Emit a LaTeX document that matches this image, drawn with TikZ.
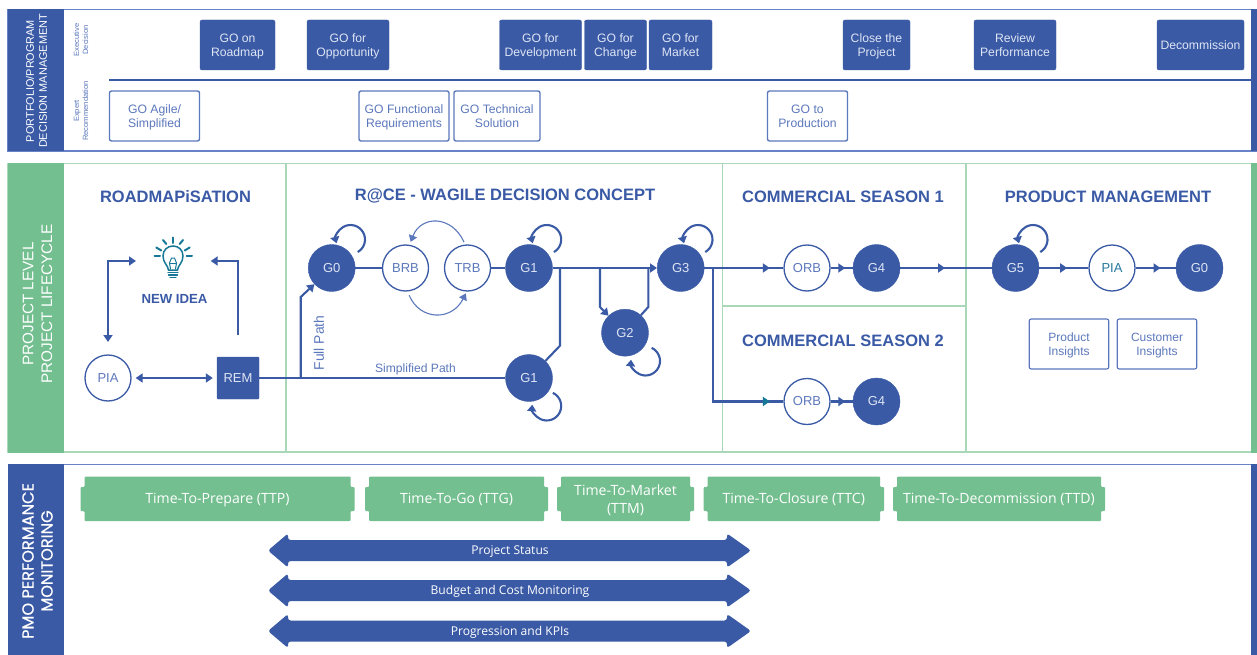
\documentclass[tikz,border=0pt]{standalone}
\usepackage{fontspec}
\setmainfont{Liberation Sans}
\newfontfamily\opensansf{Open Sans}
\newfontfamily\popf[FakeBold=0.5]{Poppins}
\usetikzlibrary{arrows.meta,decorations.markings,calc}
\definecolor{bluec}{RGB}{58,90,166}
\definecolor{framec}{RGB}{104,130,200}
\definecolor{lightt}{RGB}{92,120,188}
\definecolor{whitet}{RGB}{222,229,244}
\definecolor{greenc}{RGB}{115,191,144}
\definecolor{paleg}{RGB}{168,216,184}
\definecolor{tealc}{RGB}{22,120,150}
\newcommand{\fs}[2]{\fontsize{#1}{#2}\selectfont}
\newcommand{\twoline}[2]{\smash{#1}\rule{0pt}{.72em}\\\smash{#2}}
\newcommand{\oneline}[1]{\smash{#1}\rule{0pt}{.72em}}
\newcommand{\selfloop}[5]{% node, centre dx, dy, start, end
  \draw[loopline] (#1) ++({#2+14.5*cos(#4)},{#3-14.5*sin(#4)}) arc[start angle=#4,end angle=#5,radius=14.5pt];}
\newcommand{\greenbar}[5]{% name, x1, x2, y-centre, text
  \fill[greenc,rounded corners=1pt] (#2,487)--(#2+4,487)--(#2+4,476.5)--(#3-4,476.5)--(#3-4,487)--(#3,487)--(#3,511)--(#3-4,511)--(#3-4,521)--(#2+4,521)--(#2+4,511)--(#2,511)--cycle;
  \node[bartext] (#1) at ({(#2+#3)/2},#4) {#5};}
\newcommand{\dblarrow}[3]{% name, y, text
  \fill[bluec,rounded corners=2.6pt] (268,#2)--(288,#2-17)--(288,#2-10.5)--(727,#2-10.5)--(727,#2-17)--(751,#2)--(727,#2+17)--(727,#2+10.5)--(288,#2+10.5)--(288,#2+17)--cycle;
  \node[arrtext] (#1) at (510,#2) {\oneline{#3}};}
\tikzset{
  gosolid/.style={draw=bluec,fill=bluec,rounded corners=2pt,minimum height=50pt,inner sep=0pt,align=center,text=whitet,font=\fs{12.2}{14}},
  goopen/.style={draw=lightt,line width=1.4pt,fill=white,rounded corners=2pt,minimum height=50pt,inner sep=0pt,align=center,text=lightt,font=\fs{12.2}{14}},
  gate/.style={circle,fill=bluec,draw=bluec,minimum size=47pt,inner sep=0pt,text=whitet,font=\fs{13}{15}},
  board/.style={circle,fill=white,draw=bluec,line width=1.3pt,minimum size=46pt,inner sep=0pt,text=lightt,font=\fs{13}{15}},
  conn/.style={draw=bluec,line width=2.1pt},
  thinconn/.style={draw=lightt,line width=1.1pt},
  arr/.style={conn,-{Triangle[length=7pt,width=9pt]}},
  dblarr/.style={conn,{Triangle[length=7pt,width=9pt]}-{Triangle[length=7pt,width=9pt]}},
  loopline/.style={draw=bluec,line width=2.1pt,-{Triangle[length=6.5pt,width=9pt]}},
  midarr/.style={postaction={decorate,decoration={markings,mark=at position #1 with {\arrow{Triangle[length=7pt,width=9pt]}}}}},
  midarrteal/.style={postaction={decorate,decoration={markings,mark=at position #1 with {\arrow[color=tealc]{Triangle[length=7pt,width=9pt]}}}}},
  title/.style={text=bluec,font=\bfseries\fs{16.5}{18},inner sep=0pt},
  sidelabel/.style={rotate=90,text=white,align=center,inner sep=0pt},
  tinylabel/.style={rotate=90,text=lightt,align=center,inner sep=0pt,font=\fs{7.6}{9}},
  bartext/.style={text=white,align=center,inner sep=0pt,font=\opensansf\fs{14.1}{18}},
  arrtext/.style={text=white,align=center,inner sep=0pt,font=\opensansf\fs{12.1}{14}},
  pathlabel/.style={text=lightt,inner sep=0pt},
}
\begin{document}
\begin{tikzpicture}[x=1pt,y=-1pt]
\useasboundingbox (0,0) rectangle (1257,655);
\fill[white] (0,0) rectangle (1257,655);

% ---------- top panel
\draw[framec,line width=1.3pt] (8,9.5) rectangle (1257,151);
\fill[bluec] (8,9) rectangle (64,151.5);
\fill[bluec] (1251,9) rectangle (1257,151.5);
\node[sidelabel,font=\fs{10.9}{13}] (sidetop) at (36.5,81) {PORTFOLIO/PROGRAM\\DECISION MANAGEMENT};
\node[tinylabel] (execlab) at (81,40) {Executive\\Decision};
\node[tinylabel] (explab) at (81,111) {Expert\\Recommendation};
\coordinate (sepl) at (109,80);
\coordinate (sepr) at (1251,80);
\draw[conn] (sepl) -- (sepr);

\node[gosolid,minimum width=75pt] (goroad) at (237.5,45) {\twoline{GO on}{Roadmap}};
\node[gosolid,minimum width=82pt] (goopp) at (348,45) {\twoline{GO for}{Opportunity}};
\node[gosolid,minimum width=82pt] (godev) at (540.5,45) {\twoline{GO for}{Development}};
\node[gosolid,minimum width=62pt] (gochg) at (615.5,45) {\twoline{GO for}{Change}};
\node[gosolid,minimum width=63pt] (gomkt) at (680.5,45) {\twoline{GO for}{Market}};
\node[gosolid,minimum width=67pt] (goclose) at (876.5,45) {\twoline{Close the}{Project}};
\node[gosolid,minimum width=82pt] (gorev) at (1015,45) {\twoline{Review}{Performance}};
\node[gosolid,minimum width=87pt] (godec) at (1200.5,45) {\oneline{Decommission}};

\node[goopen,minimum width=90pt] (goagile) at (154.5,116) {\twoline{GO Agile/}{Simplified}};
\node[goopen,minimum width=90pt] (gofunc) at (404,116) {\twoline{GO Functional}{Requirements}};
\node[goopen,minimum width=86pt] (gotech) at (497,116) {\twoline{GO Technical}{Solution}};
\node[goopen,minimum width=80pt] (goprod) at (807.5,116) {\twoline{GO to}{Production}};

% ---------- middle panel
\draw[paleg,line width=1.5pt] (8,163.7) rectangle (1257,452);
\fill[greenc] (8,163) rectangle (64,452.5);
\fill[greenc] (1251,163) rectangle (1257,452.5);
\draw[paleg,line width=1.5pt] (286,163.7) -- (286,452);
\draw[paleg,line width=1.5pt] (722.7,163.7) -- (722.7,452);
\draw[paleg,line width=1.5pt] (966,163.7) -- (966,452);
\draw[paleg,line width=1.5pt] (722.7,306) -- (966,306);
\node[sidelabel,font=\fs{15.3}{18.6}] (sidemid) at (37.5,304) {PROJECT LEVEL\\PROJECT LIFECYCLE};

\node[title] (troad) at (175.5,197) {ROADMAPiSATION};
\node[title] (trace) at (505,196) {R@CE - WAGILE DECISION CONCEPT};
\node[title] (tcs1) at (843,197) {COMMERCIAL SEASON 1};
\node[title] (tcs2) at (843,341) {COMMERCIAL SEASON 2};
\node[title] (tpm) at (1108,197) {PRODUCT MANAGEMENT};

% light bulb
\begin{scope}[tealc,line width=1.5pt,line cap=round]
  \draw (168.5,270) .. controls (168,265) and (163,263) .. (163,256)
        .. controls (163,250) and (167.5,246) .. (173,246)
        .. controls (178.5,246) and (183,250) .. (183,256)
        .. controls (183,263) and (178,265) .. (177.5,270) -- cycle;
  \draw[line width=1pt] (170.5,269) -- (169.5,263) -- (171.5,258) -- (174.5,258) -- (176.5,263) -- (175.5,269);
  \draw[line width=1pt] (169.5,263) -- (176.5,263);
  \draw[line width=1.1pt] (168,272.5) -- (178,272.5);
  \draw[line width=1.1pt] (168.5,275) -- (177.5,275);
  \draw[line width=1.1pt] (170,277.5) -- (176,277.5);
  \draw[line width=2pt] (154.5,256) -- (160,256);
  \draw[line width=2pt] (186.5,256) -- (192,256);
  \draw[line width=2pt] (156.3,247.5) -- (161.3,250.5);
  \draw[line width=2pt] (189.7,247.5) -- (184.7,250.5);
  \draw[line width=2pt] (163,240) -- (166.3,244);
  \draw[line width=2pt] (183,240) -- (179.7,244);
  \draw[line width=2pt] (173,237.5) -- (173,243);
\end{scope}
\node[text=bluec,inner sep=0pt,font=\bfseries\fs{13.2}{15}] (newidea) at (174.5,299) {NEW IDEA};

% nodes of the lifecycle
\node[board] (piaL) at (108,378) {PIA};
\node[draw=bluec,fill=bluec,rounded corners=1pt,minimum size=42pt,inner sep=0pt,text=whitet,font=\fs{13}{15}] (rem) at (238,378) {REM};
\node[gate] (g0) at (331.7,268) {G0};
\node[board] (brb) at (405.5,268) {BRB};
\node[board] (trb) at (467.5,268) {TRB};
\node[gate] (g1) at (529,268) {G1};
\node[gate] (g3) at (680.7,268) {G3};
\node[gate] (g2) at (625,332.7) {G2};
\node[gate] (g1b) at (529,378) {G1};
\node[board] (orb) at (807,268) {ORB};
\node[gate] (g4) at (876.5,268) {G4};
\node[board] (orbb) at (807,401.5) {ORB};
\node[gate] (g4b) at (876.5,401.5) {G4};
\node[gate] (g5) at (1015.5,268) {G5};
\node[board,text=tealc!80!lightt] (piaR) at (1112,268) {PIA};
\node[gate] (g0b) at (1199.5,268) {G0};

\node[goopen,minimum width=79.5pt,line width=1.2pt,font=\fs{12}{14}] (pinsight) at (1069,344) {\twoline{Product}{Insights}};
\node[goopen,minimum width=79.5pt,line width=1.2pt,font=\fs{12}{14}] (cinsight) at (1157,344) {\twoline{Customer}{Insights}};

\coordinate (ideaL) at (136,261);
\coordinate (ideaR) at (210.7,261);
\coordinate (piaTop) at (108,342);
\coordinate (remTop) at (238,335);
\draw[dblarr] (ideaL) -| (piaTop);
\draw[arr] (remTop) |- (ideaR);
\draw[dblarr,shorten <=4pt,shorten >=4pt] (piaL) -- (rem);
\draw[conn] (rem) -- (g1b);
\coordinate (fp) at (300.7,378);
\coordinate (fpk) at (300.7,297);
\draw[arr] (fp) -- (fpk) -- (g0);
\node[pathlabel,rotate=90,font=\fs{13.9}{15}] (fullpath) at (319,343) {Full Path};
\node[pathlabel,font=\fs{12.1}{14}] (simple) at (415.5,369) {Simplified Path};

\draw[conn] (g0) -- (brb);
\draw[conn] (trb) -- (g1);
\draw[arr] (g1) -- (g3);
\draw[thinconn,shorten <=2.5pt,shorten >=3pt,-{Triangle[length=6.5pt,width=8.5pt]}] (trb.96) .. controls (452,215) and (421,215) .. (brb.80);
\draw[thinconn,shorten <=4pt,shorten >=2pt,-{Triangle[length=6.5pt,width=8.5pt]}] (brb.-85) .. controls (420,321) and (452,321) .. (trb.-92);
\coordinate (b1) at (560,268);
\coordinate (b1k) at (560,345.7);
\draw[conn] (b1) -- (b1k) -- (g1b);
\coordinate (b2) at (600,268);
\coordinate (b2k) at (600,307);
\draw[arr] (b2) -- (b2k) -- (g2);
\coordinate (b3) at (648.3,268);
\coordinate (b3k) at (648.3,307);
\draw[conn] (g2) -- (b3k) -- (b3);

\coordinate (b4) at (712.7,268);
\coordinate (b4k) at (712.7,401.5);
\draw[conn,midarr=-13.5pt] (g3) -- (orb);
\draw[conn,midarrteal=-13.5pt] (b4) -- (b4k) -- (orbb);
\draw[conn,midarr=0.66] (orb) -- (g4);
\draw[conn,midarr=0.66] (orbb) -- (g4b);
\draw[conn,midarr=0.49] (g4) -- (g5);
\draw[conn,midarr=0.57] (g5) -- (piaR);
\draw[conn,midarr=0.62] (piaR) -- (g0b);

\selfloop{g0}{18.8}{-28.5}{-60}{195}
\selfloop{g1}{17.7}{-28.5}{-60}{195}
\selfloop{g3}{17.3}{-28.5}{-60}{195}
\selfloop{g5}{17.5}{-28.5}{-60}{195}
\selfloop{g2}{20.5}{28.3}{65}{-185}
\selfloop{g1b}{17.7}{28}{65}{-185}

% ---------- bottom panel
\draw[framec,line width=1.3pt] (8,464.7) -- (1257,464.7);
\fill[bluec] (8,464) rectangle (64,655);
\fill[bluec] (1251,464) rectangle (1257,655);
\node[sidelabel,font=\popf\fs{16.2}{19}] (sidebot) at (37.5,561) {PMO PERFORMANCE\\MONITORING};

\greenbar{ttp}{80.5}{354.5}{498.5}{\oneline{Time-To-Prepare (TTP)}}
\greenbar{ttg}{365}{548}{498.5}{\oneline{Time-To-Go (TTG)}}
\greenbar{ttm}{557}{694}{499}{\twoline{Time-To-Market}{(TTM)}}
\greenbar{ttc}{703.5}{884}{498.5}{\oneline{Time-To-Closure (TTC)}}
\greenbar{ttd}{893}{1105}{498.5}{\oneline{Time-To-Decommission (TTD)}}

\dblarrow{pstatus}{550.5}{Project Status}
\dblarrow{pbudget}{590.5}{Budget and Cost Monitoring}
\dblarrow{pkpi}{631}{Progression and KPIs}
\end{tikzpicture}
\end{document}
